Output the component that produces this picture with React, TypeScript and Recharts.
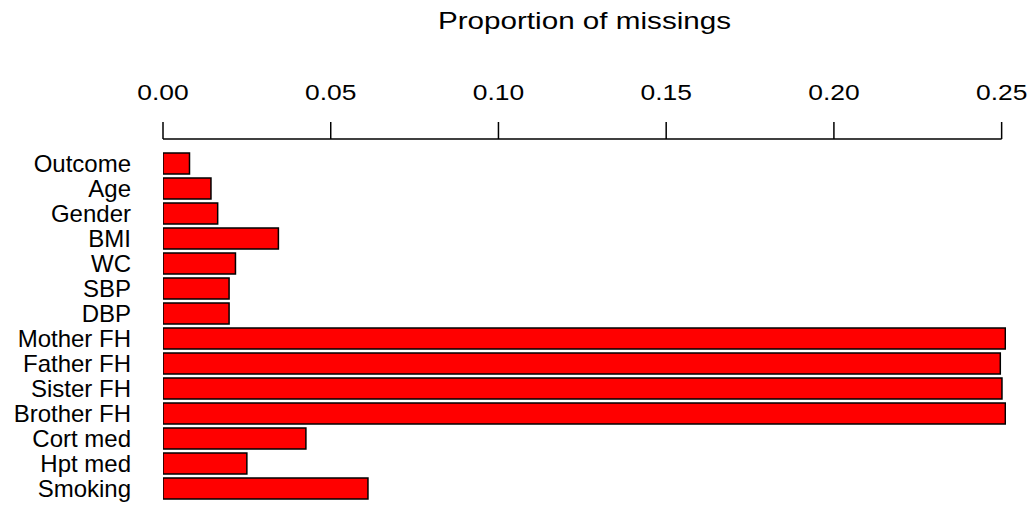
import React from "react";
import { BarChart, Bar, XAxis, YAxis } from "recharts";

// variables in plotting order (top to bottom)
const variables = [
  "Outcome",
  "Age",
  "Gender",
  "BMI",
  "WC",
  "SBP",
  "DBP",
  "Mother FH",
  "Father FH",
  "Sister FH",
  "Brother FH",
  "Cort med",
  "Hpt med",
  "Smoking",
];

const missingProportion = [
  0.0079, 0.0143, 0.0163, 0.0344, 0.0216, 0.0197, 0.0197, 0.2511, 0.2496,
  0.2501, 0.2511, 0.0426, 0.025, 0.0611,
];

const xTicks = [0, 0.05, 0.1, 0.15, 0.2, 0.25];

const data = variables.map((name, i) => ({ name, value: missingProportion[i] }));

const FONT = "'Liberation Sans', Arial, Helvetica, sans-serif";
const TICK_SIZE = 17;
const TICK_MARGIN = 22;

// first tick x, remembered so the last tick can draw the axis line back to it
let firstTickX = 0;

function TopTick(props: any) {
  const { x, y, payload, index } = props;
  if (index === 0) firstTickX = x;
  const lineY = y + TICK_MARGIN + TICK_SIZE;
  return (
    <g>
      <line x1={x} x2={x} y1={lineY - TICK_SIZE} y2={lineY} stroke="#000" strokeWidth={1.5} />
      {index === xTicks.length - 1 && (
        <line x1={firstTickX} x2={x} y1={lineY} y2={lineY} stroke="#000" strokeWidth={1.5} />
      )}
      <text
        transform={`translate(${x},${y}) scale(1.2,1)`}
        textAnchor="middle"
        fontSize={22}
        fontFamily={FONT}
        fill="#000"
      >
        {Number(payload.value).toFixed(2)}
      </text>
    </g>
  );
}

export default function App() {
  return (
    <div style={{ position: "absolute", left: 0, top: 0, width: 1027, height: 506, background: "#fff" }}>
      <svg width={1027} height={40} style={{ position: "absolute", left: 0, top: 0 }}>
        <text
          transform="translate(584.5,29) scale(1.21,1)"
          textAnchor="middle"
          fontSize={24.5}
          fontFamily={FONT}
          fill="#000"
        >
          Proportion of missings
        </text>
      </svg>
      <BarChart
        width={1027}
        height={506}
        data={data}
        layout="vertical"
        margin={{ top: 79, right: 21, bottom: 5, left: 0 }}
      >
        <XAxis
          type="number"
          orientation="top"
          domain={[0, 0.2513]}
          allowDataOverflow
          ticks={xTicks}
          height={60}
          axisLine={false}
          tickLine={false}
          tickSize={TICK_SIZE}
          tickMargin={TICK_MARGIN}
          tick={<TopTick />}
          interval={0}
        />
        <YAxis
          type="category"
          dataKey="name"
          width={163}
          axisLine={false}
          tickLine={false}
          tickSize={0}
          tickMargin={32}
          interval={0}
          padding={{ top: 12, bottom: 0 }}
          tick={{ fontSize: 24, fontFamily: FONT, fill: "#000" }}
        />
        <Bar
          dataKey="value"
          fill="#ff0000"
          stroke="#000"
          strokeWidth={1.5}
          barSize={21}
          isAnimationActive={false}
        />
      </BarChart>
    </div>
  );
}
